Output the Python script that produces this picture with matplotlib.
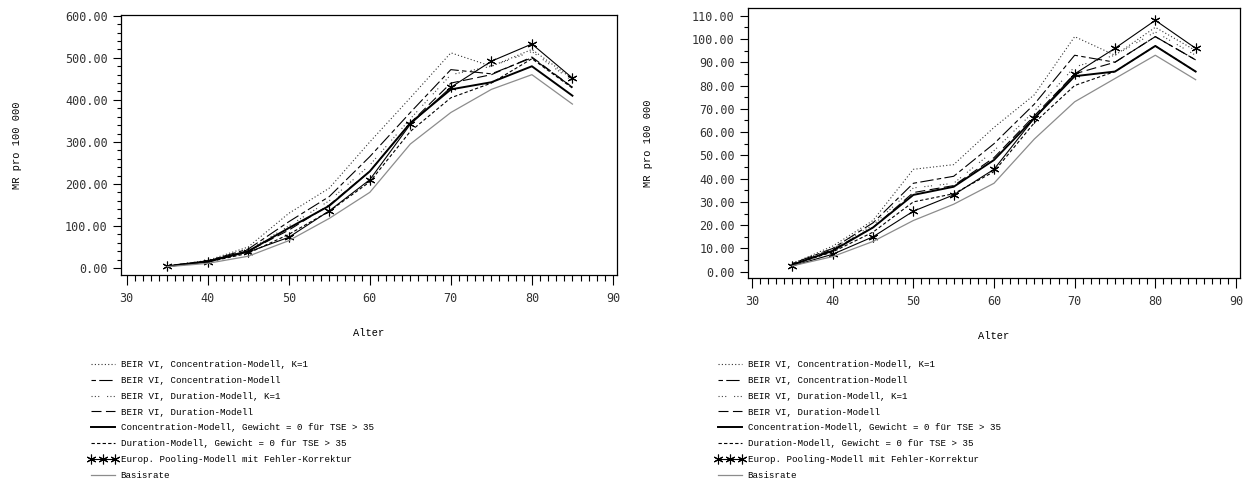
import matplotlib
import matplotlib.pyplot as plt
from matplotlib.ticker import MultipleLocator, FormatStrFormatter

matplotlib.use("Agg")

# Age groups (x values)
ages = [35, 40, 45, 50, 55, 60, 65, 70, 75, 80, 85]

labels = [
    "BEIR VI, Concentration-Modell, K=1",
    "BEIR VI, Concentration-Modell",
    "BEIR VI, Duration-Modell, K=1",
    "BEIR VI, Duration-Modell",
    "Concentration-Modell, Gewicht = 0 für TSE > 35",
    "Duration-Modell, Gewicht = 0 für TSE > 35",
    "Europ. Pooling-Modell mit Fehler-Korrektur",
    "Basisrate",
]

# Left panel (MR pro 100 000)
left_conc_k1 = [5, 18, 50, 130, 190, 300, 405, 512, 480, 520, 450]
left_conc = [5, 17, 45, 110, 170, 265, 370, 472, 462, 500, 430]
left_dur_k1 = [5, 16, 42, 100, 160, 245, 355, 460, 480, 515, 445]
left_dur = [4, 15, 40, 90, 150, 230, 345, 440, 460, 502, 430]
left_conc_w = [4, 16, 40, 95, 148, 230, 345, 425, 442, 480, 410]
left_dur_w = [4, 14, 35, 80, 135, 205, 325, 405, 440, 498, 428]
left_pool = [4, 14, 38, 73, 136, 210, 342, 430, 492, 533, 452]
left_base = [3, 11, 28, 65, 118, 180, 295, 370, 425, 460, 390]

# Right panel (MR pro 100 000)
right_conc_k1 = [3.5, 11, 22, 44, 46, 62, 76, 101, 93, 105, 95]
right_conc = [3.5, 10, 21, 38, 41, 55, 72, 93, 90, 101, 91]
right_dur_k1 = [3.5, 10, 20, 36, 38, 52, 69, 88, 93, 103, 93]
right_dur = [3, 9.5, 19, 34, 37, 49, 67, 85, 90, 101, 91]
right_conc_w = [3, 9, 19, 33, 36.5, 48, 66, 84, 86, 97, 86]
right_dur_w = [3, 8.5, 17, 30, 33.5, 43, 64, 80, 86, 97, 86]
right_pool = [2.5, 7.5, 15, 26, 33, 44, 66, 85, 96, 108, 96]
right_base = [2.5, 6.5, 13, 22, 29, 38, 57, 73, 83, 93, 82.5]

# Line styles in legend order
styles = [
    dict(color="#333333", lw=0.8, ls=(0, (1, 2))),
    dict(color="black", lw=0.8, ls=(0, (4, 3, 12, 3))),
    dict(color="#444444", lw=0.8, ls=(0, (1, 2, 1, 2, 1, 7))),
    dict(color="black", lw=0.8, ls=(0, (9, 4))),
    dict(color="black", lw=1.4, ls="-"),
    dict(color="black", lw=0.8, ls=(0, (3, 2))),
    dict(color="black", lw=0.8, ls="-", marker=(6, 2, 0), ms=7, mew=0.8),
    dict(color="#8c8c8c", lw=0.9, ls="-"),
]

mono = "DejaVu Sans Mono"
courier = "Liberation Mono"


def draw_panel(ax, series, ylim, xlim, ymajor, yminor, ylabelpad, legend_xy):
    for vals, st, lab in zip(series, styles, labels):
        ax.plot(ages, vals, label=lab, **st)
    ax.set_xlim(*xlim)
    ax.set_ylim(*ylim)
    ax.xaxis.set_major_locator(MultipleLocator(10))
    ax.xaxis.set_minor_locator(MultipleLocator(1))
    ax.yaxis.set_major_locator(MultipleLocator(ymajor))
    ax.yaxis.set_minor_locator(MultipleLocator(yminor))
    ax.yaxis.set_major_formatter(FormatStrFormatter("%.2f"))
    ax.tick_params(which="major", direction="out", length=6, width=0.8,
                   labelsize=8.5, labelcolor="#333333")
    ax.tick_params(which="minor", direction="out", length=3, width=0.8)
    ax.tick_params(axis="x", which="major", length=7, pad=5)
    ax.tick_params(axis="x", which="minor", length=4)
    for lbl in ax.get_xticklabels() + ax.get_yticklabels():
        lbl.set_family(mono)
    for sp in ax.spines.values():
        sp.set_linewidth(0.9)
    ax.set_xlabel("Alter", family=courier, fontsize=7.5, labelpad=17)
    ax.set_ylabel("MR pro 100 000", family=courier, fontsize=7.5,
                  labelpad=ylabelpad)
    fig.legend(*ax.get_legend_handles_labels(), loc="upper left",
               bbox_to_anchor=legend_xy, frameon=False,
               prop={"family": courier, "size": 6.6}, handlelength=3.2,
               handletextpad=0.35, labelspacing=0.75, numpoints=3,
               borderaxespad=0, borderpad=0)


fig = plt.figure(figsize=(12.5, 4.88), dpi=100)
ax1 = fig.add_axes([121 / 1250, (488 - 275) / 488, 496 / 1250, 260 / 488])
ax2 = fig.add_axes([748 / 1250, (488 - 278) / 488, 492 / 1250, 270 / 488])

draw_panel(ax1,
           [left_conc_k1, left_conc, left_dur_k1, left_dur,
            left_conc_w, left_dur_w, left_pool, left_base],
           (-16.7, 602), (29.3, 90.5), 100, 20, 31,
           (88 / 1250, 1 - 360 / 488))
draw_panel(ax2,
           [right_conc_k1, right_conc, right_dur_k1, right_dur,
            right_conc_w, right_dur_w, right_pool, right_base],
           (-2.7, 113.3), (29.5, 90.5), 10, 5, 28,
           (715 / 1250, 1 - 360 / 488))

fig.savefig("out.png", dpi=100)
